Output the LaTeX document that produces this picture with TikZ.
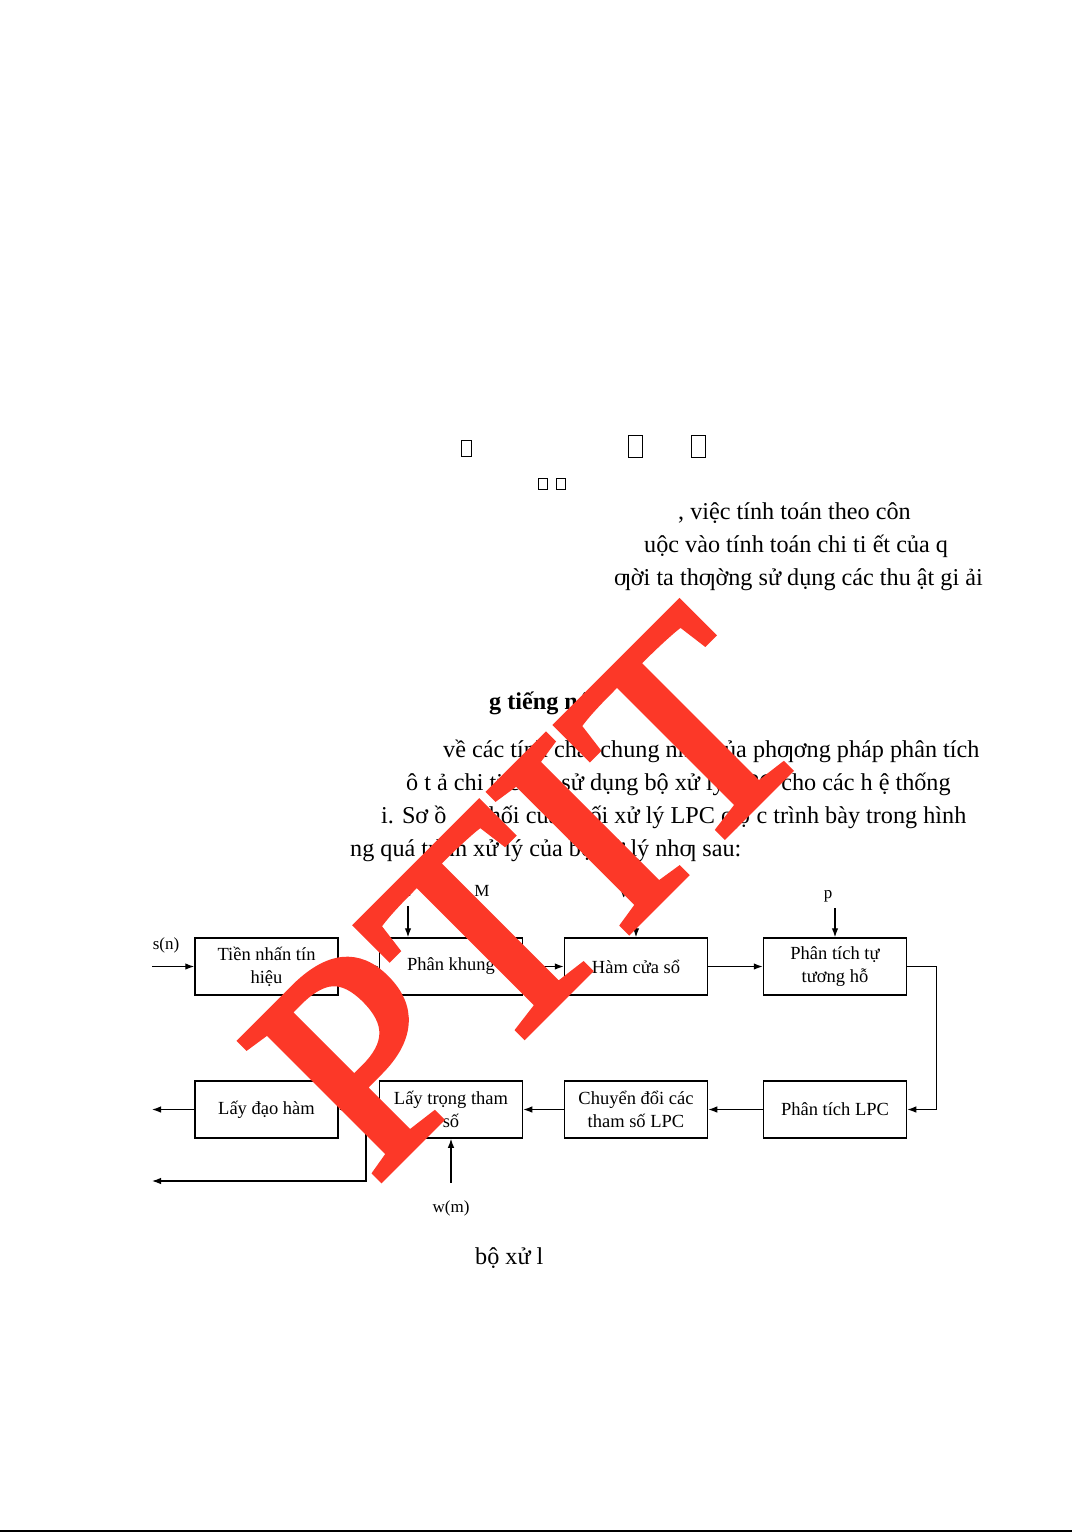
\documentclass[tikz,border=0pt]{standalone}
\usepackage{fontspec}
\setmainfont{Liberation Serif}
\usepackage{tikz}
\usetikzlibrary{arrows.meta,positioning,calc}
\definecolor{stampred}{RGB}{252,56,40}
% fill and stroke the stamp letters so they come out heavier
\newcommand{\heavytext}[1]{\special{pdf:literal direct 2 Tr 7 w 0 j 3 M}#1\special{pdf:literal direct 0 Tr}}

\begin{document}
\begin{tikzpicture}[x=1pt,y=-1pt,
    every node/.style={font=\fontsize{18.5}{23}\selectfont, inner sep=0pt},
    block/.style={draw, line width=1.5pt, minimum width=143pt, minimum height=57pt, align=center},
    sig/.style={font=\fontsize{17}{20}\selectfont},
    body/.style={anchor=base west, font=\fontsize{24.2}{28}\selectfont},
    glyphbox/.style={draw, line width=1.8pt, minimum width=#1pt},
    arr/.style={-{Latex[length=9pt,width=6.5pt]}, line width=1.2pt}
]
    \useasboundingbox (0,0) rectangle (1078,1532);

    % page text
    \node[glyphbox=10, minimum height=16pt] (g1) at (466.5,448.5) {};
    \node[glyphbox=14, minimum height=22pt] (g2) at (635.5,446.5) {};
    \node[glyphbox=14, minimum height=22pt] (g3) at (698.5,446.5) {};
    \node[glyphbox=9, minimum height=11pt] (g4) at (543,484) {};
    \node[glyphbox=9, minimum height=11pt] (g5) at (561,484) {};

    \node[body] (l1) at (678,519) {, việc tính toán theo côn};
    \node[body] (l2) at (644,552) {uộc vào tính toán chi ti ết của q};
    \node[body] (l3) at (614,585) {ƣời ta thƣờng sử dụng các thu ật gi ải};
    \node[body, font=\fontsize{24.2}{28}\selectfont\bfseries] (head) at (489,709) {g tiếng nói};
    \node[body] (l4) at (443,757) {về các tính chất chung nhất của phƣơng pháp phân tích};
    \node[body] (l5) at (406,790) {ô t ả chi ti ết và sử dụng bộ xử lý LPC cho các h ệ thống};
    \node[body] (l6) at (381,823) {i. Sơ ồ \quad khối của khối xử lý LPC ƣợ c trình bày trong hình};
    \node[body] (l7) at (350,856) {ng quá trình xử lý của bộ xử lý nhƣ sau:};
    \node[body] (cap) at (475,1264) {bộ xử l};

    % blocks
    \node[block] (pre) at (266.5,966.5) {Tiền nhấn tín\\hiệu};
    \node[block] (frame) at (451,966.5) {Phân khung};
    \node[block] (window) at (636,966.5) {Hàm cửa sổ};
    \node[block] (acorr) at (835,966.5) {Phân tích tự\\tương hỗ};
    \node[block] (lpc) at (835,1109.5) {Phân tích LPC};
    \node[block] (conv) at (636,1109.5) {Chuyển đổi các\\tham số LPC};
    \node[block] (weight) at (451,1109.5) {Lấy trọng tham\\số};
    \node[block] (deriv) at (266.5,1109.5) {Lấy đạo hàm};

    % signal labels
    \node[sig] (sn) at (166,945) {s(n)};
    \node[sig] (nN) at (406,891) {N};
    \node[sig] (nM) at (482,891) {M};
    \node[sig] (wn) at (636,893) {w(n)};
    \node[sig] (pp) at (828,896) {p};
    \node[sig] (wm) at (451,1208) {w(m)};

    \coordinate (sin) at (152,966.5);
    \coordinate (out1) at (152,1109.5);
    \coordinate (out2) at (152,1181);
    \coordinate (split) at (366,1109.5);

    \draw[arr] (sin) -- (pre);
    \draw[arr] (pre) -- (frame);
    \draw[arr] (frame) -- (window);
    \draw[arr] (window) -- (acorr);
    \draw[arr] (acorr.east) -- ++(29,0) |- (lpc.east);
    \draw[arr] (lpc) -- (conv);
    \draw[arr] (conv) -- (weight);
    \draw[arr] (weight) -- (deriv);
    \draw[arr] (deriv) -- (out1);
    \draw[arr] (split) |- (out2);

    \draw[arr] (408,906) -- (frame.north -| 408,0);
    \draw[arr] (480,906) -- (frame.north -| 480,0);
    \draw[arr] (wn.south) ++(0,5) -- (window.north);
    \draw[arr] (835,908) -- (acorr.north);
    \draw[arr] (weight.south) ++(0,44) -- (weight.south);

    \draw[line width=1.2pt] (0,1531) -- (1072,1531);

    % stamp on top
    \node[rotate=45, anchor=base west, text=stampred, font=\fontsize{300}{300}\selectfont] (stamp) at (374,1186) {\heavytext{PTIT}};
\end{tikzpicture}
\end{document}
